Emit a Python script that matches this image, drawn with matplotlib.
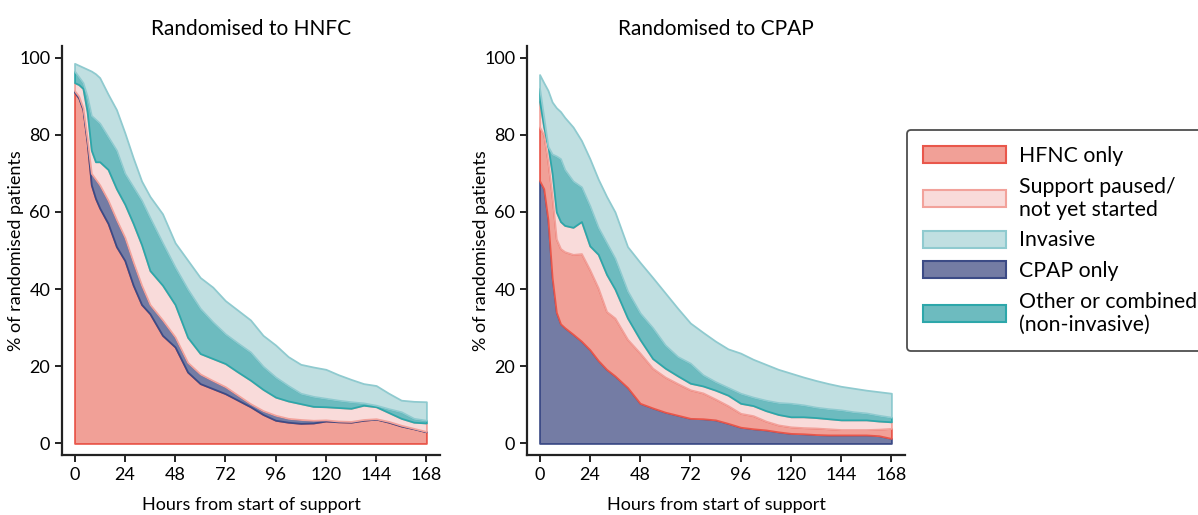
import numpy as np
import matplotlib.pyplot as plt
from matplotlib.patches import Patch

plt.rcParams['font.family'] = ['Lato', 'DejaVu Sans']

hours = [0, 2, 4, 6, 8, 10, 12, 16, 20, 24, 28, 32, 36, 42, 48, 54, 60, 66, 72, 78,
         84, 90, 96, 102, 108, 114, 120, 126, 132, 138, 144, 150, 156, 162, 168]

# Randomised to HFNC: cumulative tops of each band (bottom to top)
hfnc_hfnc = [91, 89.5, 86.5, 78, 67, 63.5, 61, 57, 51, 47.4, 41, 36, 33.6, 28, 25, 18.5, 15.5, 14.2, 12.9, 11.2,
             9.5, 7.5, 6, 5.5, 5.2, 5.3, 5.8, 5.6, 5.5, 6, 6.3, 5.5, 4.5, 3.8, 3]
hfnc_cpap = [91.4, 90, 87, 79, 70, 68.5, 67, 63, 58, 53.4, 47, 41, 36, 32, 27.6, 21, 18, 16.3, 14.7, 12.5,
             10.3, 8.5, 7.3, 6.5, 6.2, 6, 6.1, 5.8, 5.7, 6.2, 6.4, 5.7, 4.7, 3.9, 3.1]
hfnc_paused = [93.5, 93, 92, 86, 76, 73, 73, 71, 66, 62, 57, 51.5, 44.8, 41, 36, 27.5, 23.3, 22, 20.7, 18.5,
               16.4, 14, 12, 11, 10.3, 9.6, 9.5, 9.3, 9.1, 9.9, 9.5, 8, 6.5, 5.5, 5.3]
hfnc_other = [96.5, 95, 93.5, 90, 85, 84, 83, 79.5, 76, 70, 66.5, 63, 58.5, 52, 45.7, 40, 35, 31.5, 28.4, 26,
              23.7, 20, 17.2, 15, 13, 12.2, 11.7, 11.2, 10.8, 10.5, 9.9, 9, 8.2, 6.5, 6]
hfnc_invasive = [98.5, 98, 97.5, 97, 96.5, 95.8, 94.8, 90.5, 86.5, 80.5, 74, 68, 64, 59.5, 52, 47.5, 43, 40.5, 37, 34.5,
                 32, 28, 25.5, 22.5, 20.5, 19.8, 19.2, 17.8, 16.6, 15.5, 15, 13, 11.2, 10.9, 10.8]

# Randomised to CPAP: cumulative tops of each band (bottom to top)
cpap_cpap = [68.1, 66, 58, 43, 34, 31, 30, 28.3, 26.5, 24.3, 21.5, 19.2, 17.5, 14.5, 10.4, 9.2, 8.1, 7.3, 6.5, 6.4,
             6.1, 5.2, 4.2, 3.8, 3.5, 3, 2.6, 2.5, 2.3, 2.2, 2.2, 2.2, 2.2, 2, 1.3]
cpap_hfnc = [82, 80, 73, 64, 53, 50.5, 49.7, 49, 49.2, 45, 40.3, 34.2, 32.5, 27, 23.4, 19.5, 17.2, 15.5, 13.9, 13.1,
             11.5, 9.8, 7.8, 7.2, 5.8, 4.8, 4.3, 4.1, 4, 3.8, 3.6, 3.6, 3.6, 3.7, 3.9]
cpap_paused = [88.6, 82, 77, 70, 60, 57.5, 56.5, 56, 57.5, 51.2, 49, 43.8, 40, 32.5, 26.9, 22, 19.5, 17.5, 15.6, 14.9,
               13.8, 12.5, 10.4, 9.8, 8.5, 7.5, 6.9, 6.9, 6.7, 6.4, 6.1, 6.1, 6.1, 5.8, 5.6]
cpap_other = [92, 84.5, 77, 75, 74.5, 73.8, 71, 68, 66.5, 61.6, 56, 52, 48, 39.5, 33.8, 30, 25.5, 22.5, 20.8, 17.8,
              16, 14.5, 13, 12, 11.2, 10.6, 10.4, 10, 9.4, 9, 8.7, 8.2, 7.9, 7.3, 6.8]
cpap_invasive = [95.6, 93.5, 91.5, 88.5, 87, 86, 84.5, 82, 78.5, 73.8, 68.5, 64, 60, 51, 46.9, 43, 39, 35, 31.2, 28.8,
                 26.5, 24.5, 23.4, 21.8, 20.5, 19.2, 18.2, 17.2, 16.3, 15.5, 14.8, 14.3, 13.8, 13.4, 13]

styles = {
    "HFNC only": ("#F1A097", "#E9574B"),
    "Support paused/\nnot yet started": ("#F9DBDA", "#F2A29B"),
    "Invasive": ("#C0DFE1", "#8FCACF"),
    "CPAP only": ("#747CA4", "#3C4B86"),
    "Other or combined\n(non-invasive)": ("#6DBBBF", "#2DA7AA"),
}

panels = [
    ("Randomised to HNFC", [("HFNC only", hfnc_hfnc), ("CPAP only", hfnc_cpap),
                            ("Support paused/\nnot yet started", hfnc_paused),
                            ("Other or combined\n(non-invasive)", hfnc_other), ("Invasive", hfnc_invasive)]),
    ("Randomised to CPAP", [("CPAP only", cpap_cpap), ("HFNC only", cpap_hfnc),
                            ("Support paused/\nnot yet started", cpap_paused),
                            ("Other or combined\n(non-invasive)", cpap_other), ("Invasive", cpap_invasive)]),
]

fig = plt.figure(figsize=(11.98, 5.15), dpi=100)
lefts = [62 / 1198, 527 / 1198]

for left, (title, layers) in zip(lefts, panels):
    ax = fig.add_axes([left, 60 / 515, 378 / 1198, 409 / 515])
    prev = np.zeros(len(hours))
    for name, tops in layers:
        face, edge = styles[name]
        ax.fill_between(hours, prev, tops, facecolor=face, edgecolor=edge, linewidth=1.3)
        prev = np.array(tops)
    ax.set_xlim(-6, 174.5)
    ax.set_ylim(-3, 103)
    ax.set_xticks(range(0, 169, 24))
    ax.set_yticks(range(0, 101, 20))
    ax.spines[['top', 'right']].set_visible(False)
    for s in ['left', 'bottom']:
        ax.spines[s].set_linewidth(1.6)
        ax.spines[s].set_color('#222222')
    ax.tick_params(labelsize=13, length=5, width=1.4, color='#222222')
    ax.set_title(title, fontsize=15, pad=8)
    ax.set_xlabel("Hours from start of support", fontsize=13, labelpad=10)
    ax.set_ylabel("% of randomised patients", fontsize=13)
    ax.yaxis.set_label_coords(-0.1, 0.5)

handles = [Patch(facecolor=f, edgecolor=e, linewidth=1.5, label=n) for n, (f, e) in styles.items()]
leg = fig.legend(handles=handles, loc='upper left', bbox_to_anchor=(907 / 1198, 1 - 130 / 515),
                 borderaxespad=0, fontsize=15.3, frameon=True, handlelength=3.9, handleheight=0.85,
                 handletextpad=0.6, labelspacing=0.5, borderpad=0.75)
leg.get_frame().set_edgecolor('#222222')
leg.get_frame().set_linewidth(1.3)

fig.savefig("out.png", dpi=100)
